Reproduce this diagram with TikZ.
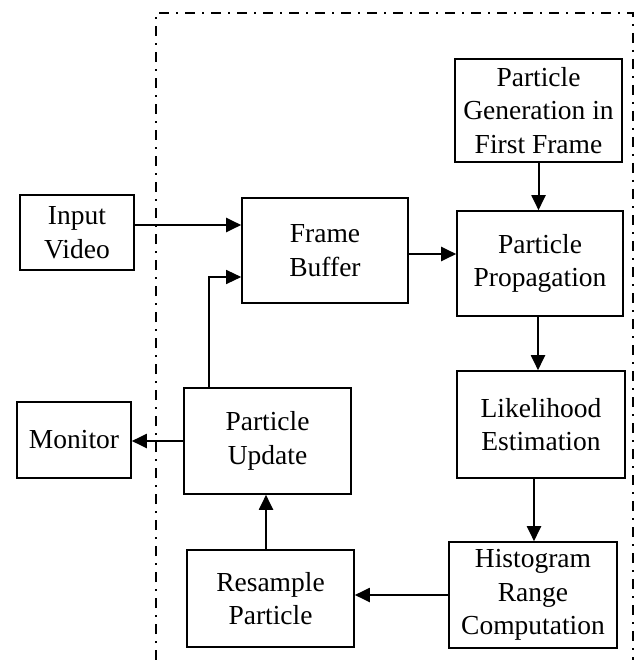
\documentclass[tikz,border=0pt]{standalone}
\usepackage{fontspec}
\setmainfont{Liberation Serif}
\usetikzlibrary{arrows.meta,calc}
\begin{document}
\begin{tikzpicture}[x=1pt,y=-1pt,
  blk/.style={draw,line width=1.6pt,align=center,inner sep=0pt,
    font=\fontsize{27.5}{33.5}\selectfont},
  arr/.style={line width=2pt,-{Triangle[length=15pt,width=14pt]}},
  thinarr/.style={line width=1.3pt,-{Triangle[length=15pt,width=14pt]}},
  frame/.style={line width=2.2pt,dash pattern=on 10pt off 7pt on 2pt off 7pt}]
\useasboundingbox (0,0) rectangle (640,660);

% processing blocks
\node[blk,minimum width=114pt,minimum height=75pt]  (in) at (77,232.5)   {Input\\Video};
\node[blk,minimum width=166pt,minimum height=105pt] (fb) at (325,250.5)  {Frame\\Buffer};
\node[blk,minimum width=167pt,minimum height=103pt] (pg) at (538.5,110.5) {Particle\\Generation in\\First Frame};
\node[blk,minimum width=166pt,minimum height=105pt] (pp) at (540,263.5)  {Particle\\Propagation};
\node[blk,minimum width=168pt,minimum height=107pt] (le) at (541,424.5)  {Likelihood\\Estimation};
\node[blk,minimum width=168pt,minimum height=106pt] (hr) at (533,595)    {Histogram\\Range\\Computation};
\node[blk,minimum width=167pt,minimum height=97pt]  (rs) at (270.5,598.5) {Resample\\Particle};
\node[blk,minimum width=167pt,minimum height=106pt] (pu) at (267.5,441)  {Particle\\Update};
\node[blk,minimum width=114pt,minimum height=76pt]  (mo) at (74,440)     {Monitor};

% tracker boundary (open at the bottom)
\coordinate (bl) at (156,660);
\coordinate (tl) at (156,13);
\coordinate (tr) at (633,13);
\coordinate (br) at (633,660);
\draw[frame] (bl) -- (tl) -- (tr) -- (br);

% connectors
\draw[arr] ([yshift=7.5pt]in.east) -- ([yshift=7.5pt]in.east -| fb.west);
\draw[arr] ([yshift=-3.5pt]fb.east) -- ([yshift=-3.5pt]fb.east -| pp.west);
\draw[arr] (pg.south) -- (pg.south |- pp.north);
\draw[arr] ([xshift=-2pt]pp.south) -- ([xshift=-2pt]pp.south |- le.north);
\draw[arr] ([xshift=-7pt]le.south) -- ([xshift=-7pt]le.south |- hr.north);
\draw[arr] (hr.west) -- (hr.west -| rs.east);
\draw[arr] ([xshift=-4.5pt]rs.north) -- ([xshift=-4.5pt]rs.north |- pu.south);
\draw[arr] (pu.west) -- (pu.west -| mo.east);
\draw[thinarr] ([xshift=-58.5pt]pu.north) |- ([yshift=-26.5pt]fb.west);
\end{tikzpicture}
\end{document}
